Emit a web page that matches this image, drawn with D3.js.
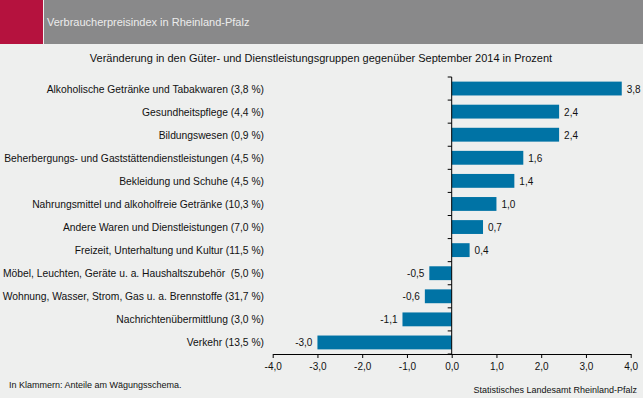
<!DOCTYPE html>
<html>
<head>
<meta charset="utf-8">
<script src="https://cdn.jsdelivr.net/npm/d3@7"></script>
<style>
  body { margin: 0; background: #eeefee; }
  svg { display: block; font-family: Arial, "Liberation Sans", sans-serif; }
  .cat { white-space: pre; }
</style>
</head>
<body>
<svg id="chart" width="643" height="398"></svg>
<script>
var categories = [
  "Alkoholische Getränke und Tabakwaren (3,8 %)",
  "Gesundheitspflege (4,4 %)",
  "Bildungswesen (0,9 %)",
  "Beherbergungs- und Gaststättendienstleistungen (4,5 %)",
  "Bekleidung und Schuhe (4,5 %)",
  "Nahrungsmittel und alkoholfreie Getränke (10,3 %)",
  "Andere Waren und Dienstleistungen (7,0 %)",
  "Freizeit, Unterhaltung und Kultur (11,5 %)",
  "Möbel, Leuchten, Geräte u. a. Haushaltszubehör  (5,0 %)",
  "Wohnung, Wasser, Strom, Gas u. a. Brennstoffe (31,7 %)",
  "Nachrichtenübermittlung (3,0 %)",
  "Verkehr (13,5 %)"
];
var values = [3.8, 2.4, 2.4, 1.6, 1.4, 1.0, 0.7, 0.4, -0.5, -0.6, -1.1, -3.0];
var xTicks = [-4, -3, -2, -1, 0, 1, 2, 3, 4];

var svg = d3.select("#chart");
var fmt = function(v) { return d3.format(".1f")(v).replace(".", ",").replace("−", "-"); };

// header
svg.append("rect").attr("x", 0).attr("y", 0).attr("width", 43).attr("height", 44).attr("fill", "#b5123e");
svg.append("rect").attr("x", 44).attr("y", 0).attr("width", 599).attr("height", 44).attr("fill", "#89898a");
svg.append("text").attr("x", 47).attr("y", 26)
  .attr("fill", "#ececec").attr("font-size", "11px")
  .text("Verbraucherpreisindex in Rheinland-Pfalz");

svg.append("text").attr("x", 321).attr("y", 62)
  .attr("text-anchor", "middle").attr("font-size", "11px").attr("fill", "#111")
  .text("Veränderung in den Güter- und Dienstleistungsgruppen gegenüber September 2014 in Prozent");

var x = d3.scaleLinear().domain([-4, 4]).range([272.7, 630.7]);
var y = d3.scaleBand().domain(categories).range([77, 354]).paddingInner(0.4).paddingOuter(0.2);

svg.selectAll(".bar")
  .data(values)
  .enter().append("rect")
    .attr("class", "bar")
    .attr("x", function(d) { return x(Math.min(0, d)); })
    .attr("y", function(d, i) { return y(categories[i]); })
    .attr("width", function(d) { return Math.abs(x(d) - x(0)); })
    .attr("height", y.bandwidth())
    .attr("fill", "#0073a5");

svg.selectAll(".val")
  .data(values)
  .enter().append("text")
    .attr("class", "val")
    .attr("x", function(d) { return d >= 0 ? x(d) + 5 : x(d) - 5; })
    .attr("y", function(d, i) { return y(categories[i]) + y.bandwidth() / 2 + 4; })
    .attr("text-anchor", function(d) { return d >= 0 ? "start" : "end"; })
    .attr("font-size", "10px").attr("fill", "#111")
    .text(fmt);

// category labels
svg.selectAll(".cat")
  .data(categories)
  .enter().append("text")
    .attr("class", "cat")
    .attr("x", 264)
    .attr("y", function(d) { return y(d) + y.bandwidth() / 2 + 4; })
    .attr("text-anchor", "end")
    .attr("font-size", "10.3px").attr("fill", "#111")
    .text(function(d) { return d; });

// x axis
var xAxis = svg.append("g")
  .attr("transform", "translate(0,354)")
  .call(d3.axisBottom(x).tickValues(xTicks).tickSize(4).tickSizeOuter(0).tickFormat(fmt));
xAxis.selectAll("text").attr("font-size", "10px").attr("fill", "#111").attr("dy", "0.9em");
xAxis.select(".domain").attr("stroke", "#000");
xAxis.selectAll(".tick line").attr("stroke", "#000");

// y axis with ticks at band boundaries
var step = y.step();
var bounds = d3.range(categories.length + 1).map(function(i) { return 77 + i * step; });
var yAxis = svg.append("g");
yAxis.append("line").attr("x1", x(0)).attr("x2", x(0)).attr("y1", 77).attr("y2", 354).attr("stroke", "#000");
yAxis.selectAll(".yt").data(bounds).enter().append("line")
  .attr("x1", x(0) - 4).attr("x2", x(0))
  .attr("y1", function(d) { return d; }).attr("y2", function(d) { return d; })
  .attr("stroke", "#000");

svg.append("text").attr("x", 9).attr("y", 388)
  .attr("font-size", "9px").attr("fill", "#111")
  .text("In Klammern: Anteile am Wägungsschema.");
svg.append("text").attr("x", 637).attr("y", 393)
  .attr("text-anchor", "end").attr("font-size", "9px").attr("fill", "#111")
  .text("Statistisches Landesamt Rheinland-Pfalz");
</script>
</body>
</html>
